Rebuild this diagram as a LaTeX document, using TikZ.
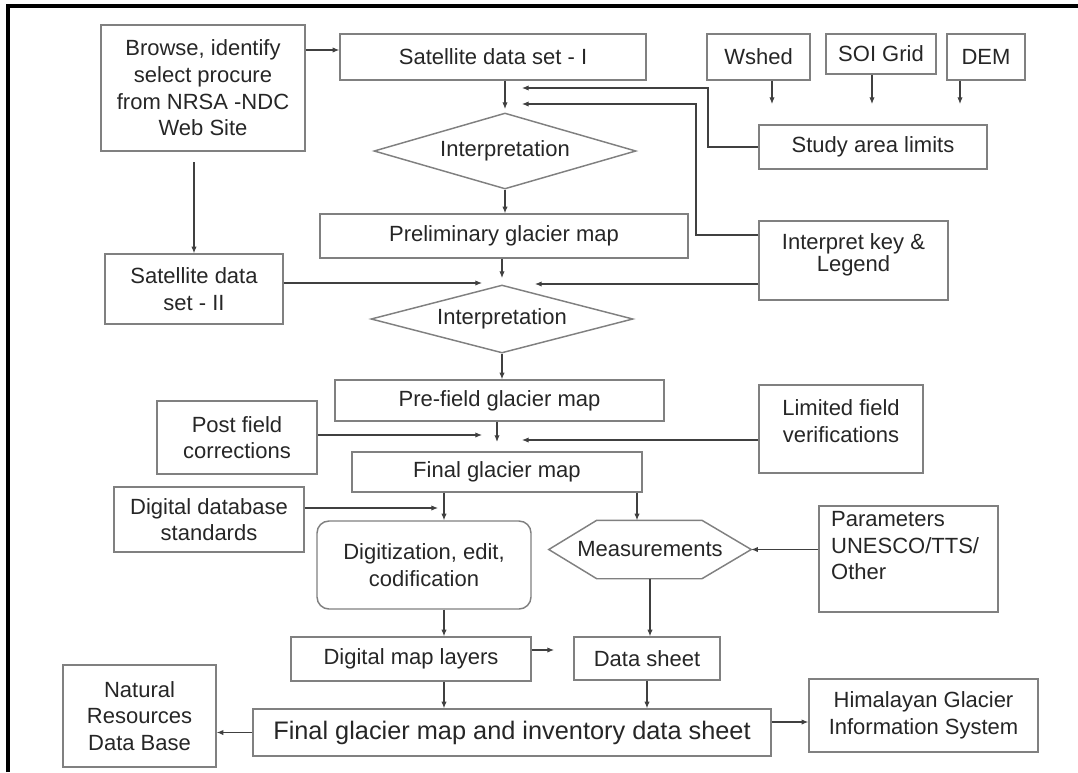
\documentclass[tikz,border=0pt]{standalone}
\usepackage{fontspec}
\setmainfont{Liberation Sans}
\usetikzlibrary{arrows.meta,shapes.geometric}
\definecolor{boxgray}{gray}{0.5}
\definecolor{txtgray}{gray}{0.15}
\definecolor{arrgray}{gray}{0.25}

\tikzset{
    bx/.style n args={2}{rectangle, draw=boxgray, line width=1.1pt, inner sep=0pt,
      minimum width=#1*0.75pt, minimum height=#2*0.75pt, align=center},
    dia/.style n args={2}{diamond, aspect=3.5, draw=boxgray, line width=1.1pt, inner sep=0pt,
      minimum width=#1*0.75pt, minimum height=#2*0.75pt},
    arr/.style={draw=arrgray, line width=0.8pt, -{Latex[length=5pt,width=4pt]}}
}

\begin{document}
\begin{tikzpicture}[x=0.75pt, y=-0.75pt,
    every node/.style={font=\fontsize{16.5}{20}\selectfont, text=txtgray}]
    \useasboundingbox (0,0) rectangle (1078,772);

    % Frame
    \draw[line width=3pt] (8,772) -- (8,5.5) -- (1078,5.5);

    % Boxes
    \node[bx={204}{126}] (browse) at (203,88) {Browse, identify\\select procure\\from NRSA -NDC\\Web Site};
    \node[bx={306}{46}] (sat1) at (493,57) {Satellite data set - I};
    \node[bx={103}{46}] (wshed) at (758.5,57) {Wshed};
    \node[bx={110}{40}] (soi) at (881,54) {SOI Grid};
    \node[bx={78}{46}] (dem) at (986,57) {DEM};
    \node[bx={228}{44}] (study) at (873,147) {Study area limits};
    \node[dia={262}{76}] (interp1) at (505,151) {Interpretation};
    \node[bx={368}{44}] (prelim) at (504,236) {Preliminary glacier map};
    \node[bx={189}{79}] (key) at (853.5,260.5) {Interpret key \&\\[-3pt]Legend\\[-8pt]\mbox{}};
    \node[bx={178}{70}] (sat2) at (194,289) {Satellite data\\set - II};
    \node[dia={262}{68}] (interp2) at (502,319) {Interpretation};
    \node[bx={329}{41}] (prefield) at (499.5,400.5) {Pre-field glacier map};
    \node[bx={160}{73}] (post) at (237,437.5) {Post field\\corrections};
    \node[bx={164}{88}] (limited) at (841,429) {Limited field\\verifications\\[-8pt]\mbox{}};
    \node[bx={290}{40}] (final) at (497,472) {Final glacier map};
    \node[bx={190}{65}] (dds) at (209,519.5) {Digital database\\standards};
    \node[bx={214}{88}, rounded corners=9pt] (digit) at (424,565) {Digitization, edit,\\codification};
    \node[bx={201}{57}, draw=none] (meas) at (650,549.5) {Measurements};
    \node[bx={179}{106}, align=left, text width=116pt] (param) at (908.5,559) {Parameters\\UNESCO/TTS/\\Other\\\mbox{}};
    \node[bx={240}{44}] (layers) at (411,659) {Digital map layers};
    \node[bx={146}{43}] (sheet) at (647,658.5) {Data sheet};
    \node[bx={518}{47}, font=\fontsize{19}{23}\selectfont] (inv) at (512,732.5) {Final glacier map and inventory data sheet};
    \node[bx={153}{102}] (nrdb) at (139.5,716) {Natural\\Resources\\Data Base};
    \node[bx={229}{73}] (hgis) at (923.5,715.5) {Himalayan Glacier\\Information System};

    % Hexagon round the measurements
    \draw[boxgray, line width=1.1pt] (meas.west) -- ([xshift=36pt]meas.north west)
      -- ([xshift=-37pt]meas.north east) -- (meas.east)
      -- ([xshift=-37pt]meas.south east) -- ([xshift=36pt]meas.south west) -- cycle;

    % Free ends of arrows
    \coordinate (jA) at (522,88);
    \coordinate (jB) at (522,104);
    \coordinate (jC) at (482,283);
    \coordinate (jD) at (535,284);
    \coordinate (jE) at (482,435);
    \coordinate (jF) at (522,440);
    \coordinate (jG) at (438,508);
    \coordinate (jH) at (554,650);
    \coordinate (colA) at (444,0);
    \coordinate (colB) at (637,0);

    % Arrows
    \draw[arr] (browse.east |- 0,50) -- (sat1.west |- 0,50);
    \draw[arr] (sat2.north |- 0,162) -- (sat2.north);
    \foreach \n/\x in {wshed/772,soi/872,dem/960}
      \draw[arr] (\n.south -| \x,0) -- (\x,104);
    \draw[arr] (interp1.north |- sat1.south) -- (interp1.north |- 0,109);
    \draw[arr] (study.west) -| (708,88) -- (jA);
    \draw[arr] (key.west |- 0,235) -| (696,104) -- (jB);
    \draw[arr] (interp1.south) -- (interp1.south |- prelim.north);
    \draw[arr] (interp2.north |- prelim.south) -- (interp2.north |- 0,278);
    \draw[arr] (sat2.east |- jC) -- (jC);
    \draw[arr] (key.west |- jD) -- (jD);
    \draw[arr] (interp2.south) -- (interp2.south |- prefield.north);
    \draw[arr] (post.east |- jE) -- (jE);
    \draw[arr] (final.north |- prefield.south) -- ([yshift=7pt]final.north);
    \draw[arr] (limited.west |- jF) -- (jF);
    \draw[arr] (dds.east |- jG) -- (jG);
    \draw[arr] (final.south -| colA) -- (digit.north -| colA);
    \draw[arr] (final.south -| colB) -- (meas.north -| colB);
    \draw[arr] (param.west |- meas.east) -- (meas.east);
    \draw[arr] (digit.south -| colA) -- (layers.north -| colA);
    \draw[arr] (layers.east |- jH) -- (jH);
    \draw[arr] (meas.south) -- (meas.south |- sheet.north);
    \draw[arr] (layers.south -| colA) -- (inv.north -| colA);
    \draw[arr] (sheet.south) -- (sheet.south |- inv.north);
    \draw[arr] (inv.west) -- (inv.west -| nrdb.east);
    \draw[arr] (inv.east |- 0,722) -- (hgis.west |- 0,722);
\end{tikzpicture}
\end{document}
